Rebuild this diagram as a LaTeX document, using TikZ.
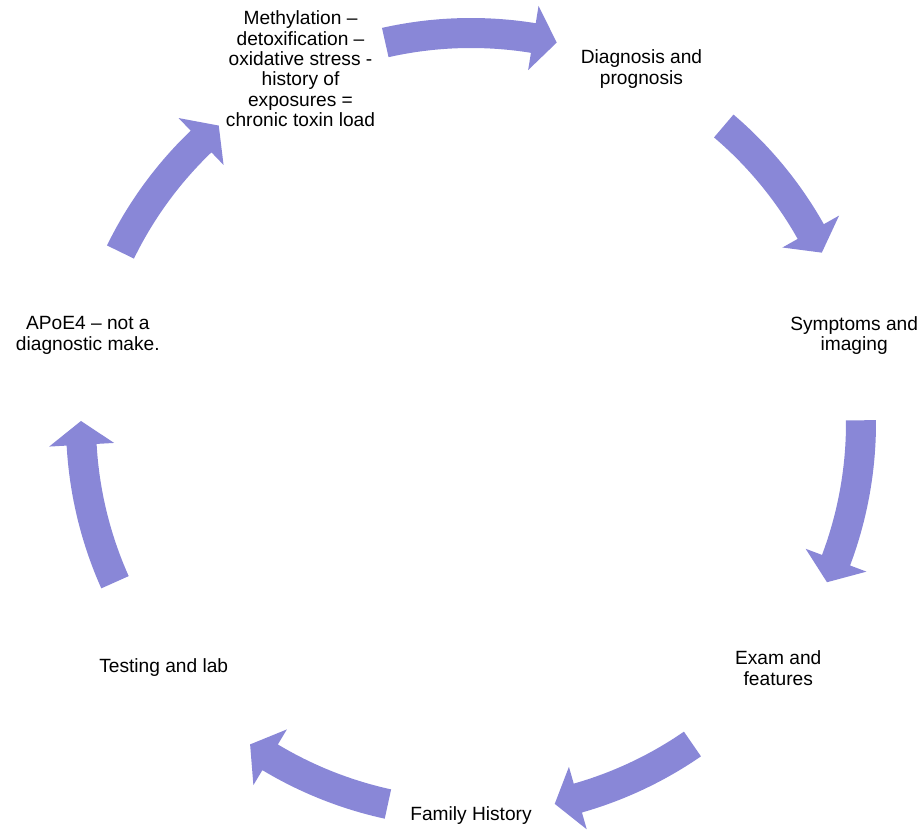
\documentclass[tikz,border=0pt]{standalone}
\usepackage{fontspec}
\setmainfont{Liberation Sans}
\definecolor{CycleViolet}{RGB}{137,135,215}

\begin{document}
\begin{tikzpicture}[
    lbl/.style={align=center, inner sep=1pt, font=\fontsize{10.9}{11.6}\selectfont},
    cyc/.style={fill=CycleViolet, draw=none}
]
    \useasboundingbox (-9.42,-8.18) rectangle (9.06,8.46);

    \foreach \a/\b in {102.7/77.3, 49.6/25.9, 0.4/-24.1, -55.4/-77.6, -102.3/-124.5, -155.9/-180.3, 154.0/130.3} {
        \pgfmathsetmacro{\c}{\b+3.5}
        \fill[cyc] (\a:8.1) arc[start angle=\a, end angle=\c, radius=8.1]
            -- (\c:8.45) -- (\b:7.8) -- (\c:7.15) -- (\c:7.5)
            arc[start angle=\c, end angle=\a, radius=7.5] -- cycle;
    }

    \node[lbl] (methyl) at (115.71:7.86) {Methylation --\\detoxification --\\oxidative stress -\\history of\\exposures =\\chronic toxin load};
    \node[lbl] (diag) at (64.29:7.86) {Diagnosis and\\prognosis};
    \node[lbl] (sympt) at (12.86:7.86) {Symptoms and\\imaging};
    \node[lbl] (exam) at (-38.57:7.86) {Exam and\\features};
    \node[lbl] (family) at (-90:7.86) {Family History};
    \node[lbl] (testing) at (-141.43:7.86) {Testing and lab};
    \node[lbl] (apoe) at (-192.86:7.86) {APoE4 -- not a\\diagnostic make.};
\end{tikzpicture}
\end{document}
